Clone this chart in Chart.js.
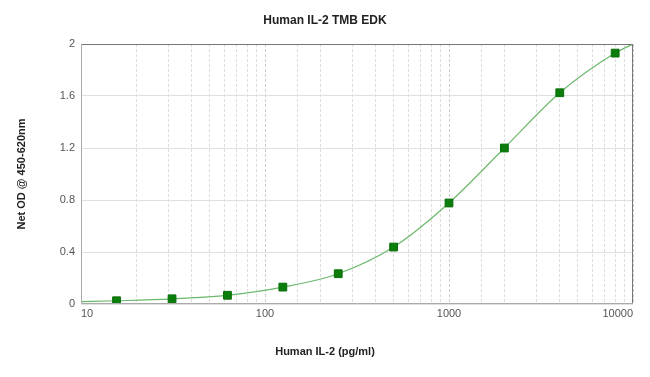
<!DOCTYPE html>
<html>
<head>
<meta charset="utf-8">
<script src="https://cdn.jsdelivr.net/npm/chart.js@4/dist/chart.umd.min.js"></script>
<style>
  html, body { margin: 0; padding: 0; background: #fff; }
  #wrap { width: 650px; height: 377px; }
</style>
</head>
<body>
<div id="wrap"><canvas id="myChart" width="650" height="377"></canvas></div>
<script>
// standards (pg/ml) and net OD
const concentrations = [15.6, 31.25, 62.5, 125, 250, 500, 1000, 2000, 4000, 8000];
const netOD = [0.025, 0.04, 0.067, 0.13, 0.233, 0.438, 0.777, 1.2, 1.625, 1.93];

// fitted curve
const curveX = [10, 15.6, 31.25, 62.5, 125, 250, 500, 1000, 2000, 4000, 8000, 10000];
const curveY = [0.018, 0.025, 0.04, 0.067, 0.13, 0.233, 0.438, 0.777, 1.2, 1.625, 1.93, 2.0];

const yTicks = [0, 0.4, 0.8, 1.2, 1.6, 2];
const xLabels = [10, 100, 1000, 10000];

const frame = {
  id: "frame",
  afterDraw(chart) {
    const a = chart.chartArea;
    const ctx = chart.ctx;
    ctx.save();
    ctx.strokeStyle = "#777";
    ctx.lineWidth = 1;
    ctx.beginPath();
    ctx.moveTo(a.left, a.top + 0.5);
    ctx.lineTo(a.right - 0.5, a.top + 0.5);
    ctx.lineTo(a.right - 0.5, a.bottom);
    ctx.stroke();
    ctx.strokeStyle = "#aaa";
    ctx.beginPath();
    ctx.moveTo(a.left + 0.5, a.top);
    ctx.lineTo(a.left + 0.5, a.bottom - 0.5);
    ctx.lineTo(a.right, a.bottom - 0.5);
    ctx.stroke();
    ctx.restore();
  }
};

const ctx = document.getElementById("myChart").getContext("2d");
new Chart(ctx, {
  type: "scatter",
  data: {
    datasets: [
      {
        label: "Standards",
        data: concentrations.map((c, i) => ({ x: c, y: netOD[i] })),
        pointStyle: "rect",
        pointRadius: 5.5,
        backgroundColor: "#0a7d0a",
        borderColor: "#0a6e0a",
        borderWidth: 1,
        showLine: false,
        order: 0
      },
      {
        label: "Fit",
        data: curveX.map((c, i) => ({ x: c, y: curveY[i] })),
        showLine: true,
        pointRadius: 0,
        borderColor: "#6cb86c",
        borderWidth: 1.2,
        cubicInterpolationMode: "monotone",
        fill: false,
        order: 1
      }
    ]
  },
  options: {
    responsive: false,
    animation: false,
    layout: { padding: 0 },
    plugins: {
      legend: { display: false },
      tooltip: { enabled: false },
      title: {
        display: true,
        text: "Human IL-2 TMB EDK",
        color: "#222",
        font: { family: "Liberation Sans, Arial", size: 12, weight: "bold" },
        padding: { top: 13, bottom: 16.6 }
      },
      subtitle: {
        display: true,
        position: "bottom",
        text: "Human IL-2 (pg/ml)",
        color: "#222",
        font: { family: "Liberation Sans, Arial", size: 11, weight: "bold" },
        padding: { top: 10, bottom: 18.4 }
      }
    },
    scales: {
      x: {
        type: "logarithmic",
        min: 10,
        max: 10000,
        afterFit: (s) => {
          s.height = 31.4;
          s.paddingLeft = 0;
          s.paddingRight = 17;
        },
        grid: {
          color: (c) => {
            const v = c.tick && c.tick.value;
            if (!v) return "#ddd";
            const l = Math.log10(v);
            return Math.abs(l - Math.round(l)) < 1e-6 ? "#ccc" : "#ddd";
          },
          drawTicks: false
        },
        border: { display: false, dash: [3, 2] },
        ticks: {
          autoSkip: false,
          maxRotation: 0,
          align: "inner",
          padding: 3,
          color: "#555",
          font: { family: "Liberation Sans, Arial", size: 11 },
          callback: (v) => xLabels.includes(v) ? String(v) : ""
        }
      },
      y: {
        min: 0,
        max: 2,
        afterFit: (s) => { s.width = 81; },
        afterBuildTicks: (s) => { s.ticks = yTicks.map((v) => ({ value: v })); },
        grid: { color: "#e0e0e0", drawTicks: false },
        border: { display: false },
        ticks: {
          padding: 6,
          color: "#555",
          font: { family: "Liberation Sans, Arial", size: 11 },
          callback: (v) => String(v)
        },
        title: {
          display: true,
          text: "Net OD @ 450-620nm",
          color: "#222",
          font: { family: "Liberation Sans, Arial", size: 11, weight: "bold" },
          padding: { top: 15, bottom: 0 }
        }
      }
    }
  },
  plugins: [frame]
});
</script>
</body>
</html>
